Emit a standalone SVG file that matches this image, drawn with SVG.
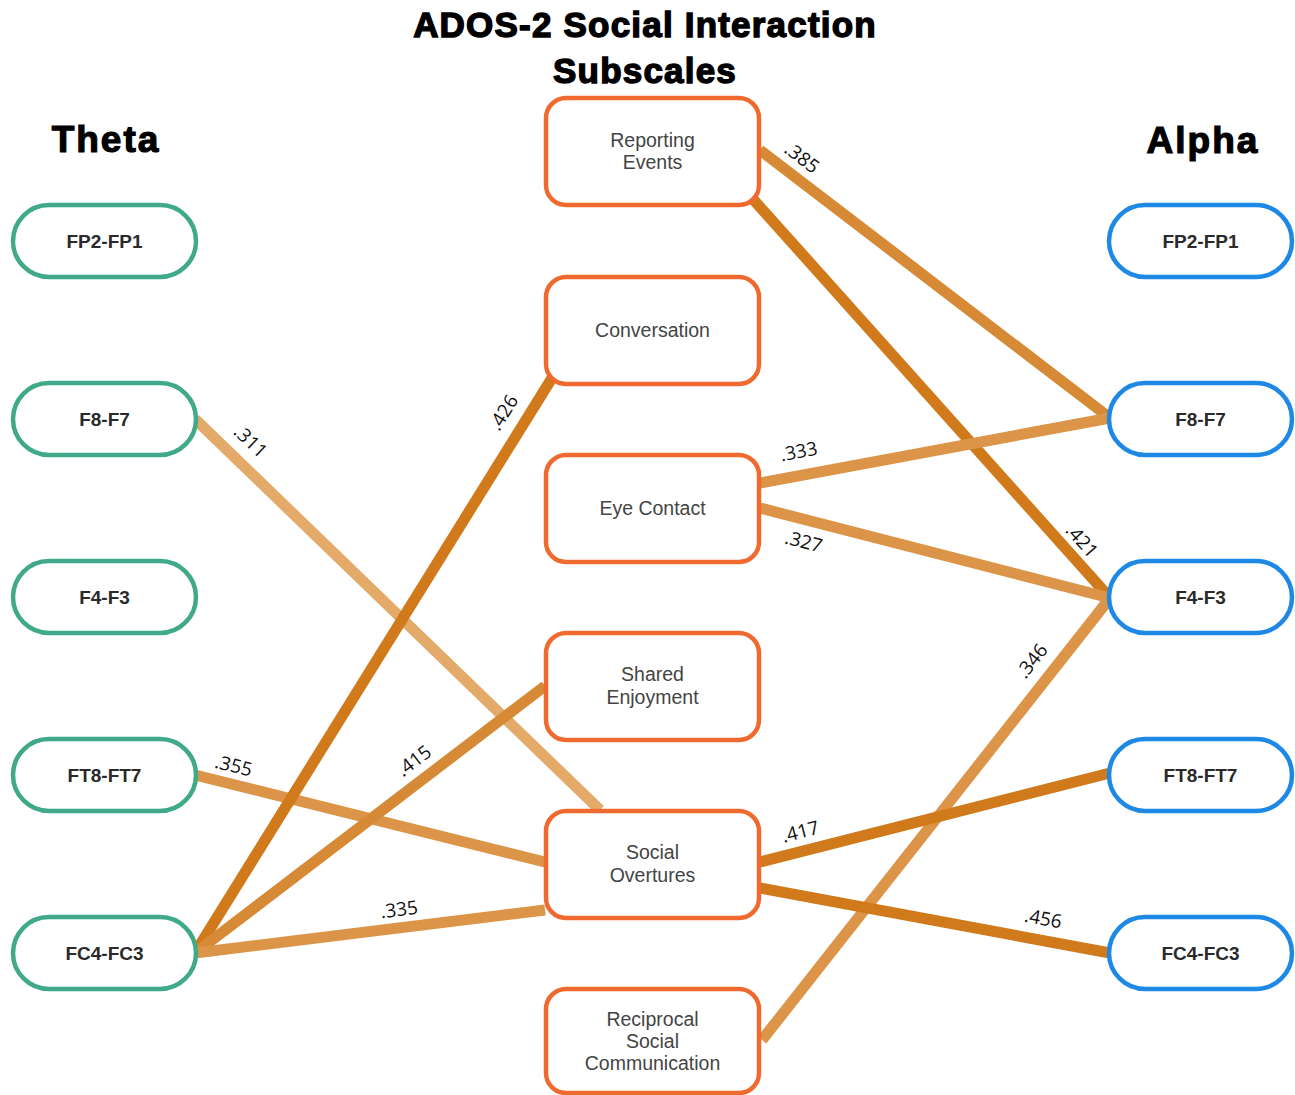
<svg xmlns="http://www.w3.org/2000/svg" width="1295" height="1095" viewBox="0 0 1295 1095">
<style>
.title{font-family:"Liberation Sans",Arial,sans-serif;font-weight:900;font-size:35px;letter-spacing:1.2px;fill:#000;stroke:#000;stroke-width:1.4px;text-anchor:middle}
.band{font-family:"Liberation Sans",Arial,sans-serif;font-weight:bold;font-size:37px;letter-spacing:2px;fill:#000;stroke:#000;stroke-width:1.2px;text-anchor:middle}
.theta{fill:#fff;stroke:#3fa98a;stroke-width:4.5}
.alpha{fill:#fff;stroke:#1e88e5;stroke-width:4.5}
.sub{fill:#fff;stroke:#f06a30;stroke-width:4.5}
.pt{font-family:"Liberation Sans",Arial,sans-serif;font-weight:bold;font-size:19px;fill:#2a2a2a;text-anchor:middle}
.st{font-family:"Liberation Sans",Arial,sans-serif;font-size:19.5px;fill:#444;text-anchor:middle}
.e{fill:none;stroke-width:11;stroke-linecap:butt}
.l1{stroke:#e3aa6a}
.l2{stroke:#dc9548}
.l3{stroke:#d68a36}
.l4{stroke:#d07a1c}
.lab{font-family:"Open Sans","Liberation Sans",sans-serif;font-size:19px;fill:#111;text-anchor:middle}
</style>
<text class="title" x="645" y="37">ADOS-2 Social Interaction</text>
<text class="title" x="645" y="83">Subscales</text>
<text class="band" x="106" y="152">Theta</text>
<text class="band" x="1203" y="153">Alpha</text>
<g id="connectors">
<line class="e l3" x1="760" y1="150" x2="1110" y2="418"/>
<line class="e l4" x1="752" y1="198" x2="1110" y2="598"/>
<line class="e l2" x1="760" y1="483" x2="1110" y2="418"/>
<line class="e l2" x1="760" y1="508" x2="1110" y2="598"/>
<line class="e l2" x1="762" y1="1040" x2="1110" y2="598"/>
<line class="e l4" x1="760" y1="862" x2="1110" y2="773"/>
<line class="e l4" x1="760" y1="888" x2="1110" y2="953"/>
<line class="e l1" x1="195" y1="419" x2="600" y2="810"/>
<line class="e l2" x1="195" y1="775" x2="545" y2="862"/>
<line class="e l4" x1="195" y1="953" x2="552" y2="378"/>
<line class="e l3" x1="195" y1="953" x2="545" y2="686"/>
<line class="e l2" x1="195" y1="953" x2="545" y2="910"/>
<text class="lab" transform="translate(798,163) rotate(37.4)">.385</text>
<text class="lab" transform="translate(1077,545) rotate(48.2)">.421</text>
<text class="lab" transform="translate(800,458) rotate(-10.5)">.333</text>
<text class="lab" transform="translate(802,548) rotate(14.4)">.327</text>
<text class="lab" transform="translate(1037,665) rotate(-51.8)">.346</text>
<text class="lab" transform="translate(802,838) rotate(-14.3)">.417</text>
<text class="lab" transform="translate(1042,925) rotate(10.5)">.456</text>
<text class="lab" transform="translate(246,446) rotate(44)">.311</text>
<text class="lab" transform="translate(232,772) rotate(14)">.355</text>
<text class="lab" transform="translate(509,416) rotate(-58.2)">.426</text>
<text class="lab" transform="translate(418,766) rotate(-37.3)">.415</text>
<text class="lab" transform="translate(400,916) rotate(-7)">.335</text>
</g>
<g id="theta-FP2-FP1"><rect class="theta" x="13" y="205" width="183" height="72" rx="36"/><text class="pt" x="104.5" y="248">FP2-FP1</text></g>
<g id="theta-F8-F7"><rect class="theta" x="13" y="383" width="183" height="72" rx="36"/><text class="pt" x="104.5" y="426">F8-F7</text></g>
<g id="theta-F4-F3"><rect class="theta" x="13" y="561" width="183" height="72" rx="36"/><text class="pt" x="104.5" y="604">F4-F3</text></g>
<g id="theta-FT8-FT7"><rect class="theta" x="13" y="739" width="183" height="72" rx="36"/><text class="pt" x="104.5" y="782">FT8-FT7</text></g>
<g id="theta-FC4-FC3"><rect class="theta" x="13" y="917" width="183" height="72" rx="36"/><text class="pt" x="104.5" y="960">FC4-FC3</text></g>
<g id="alpha-FP2-FP1"><rect class="alpha" x="1109" y="205" width="183" height="72" rx="36"/><text class="pt" x="1200.5" y="248">FP2-FP1</text></g>
<g id="alpha-F8-F7"><rect class="alpha" x="1109" y="383" width="183" height="72" rx="36"/><text class="pt" x="1200.5" y="426">F8-F7</text></g>
<g id="alpha-F4-F3"><rect class="alpha" x="1109" y="561" width="183" height="72" rx="36"/><text class="pt" x="1200.5" y="604">F4-F3</text></g>
<g id="alpha-FT8-FT7"><rect class="alpha" x="1109" y="739" width="183" height="72" rx="36"/><text class="pt" x="1200.5" y="782">FT8-FT7</text></g>
<g id="alpha-FC4-FC3"><rect class="alpha" x="1109" y="917" width="183" height="72" rx="36"/><text class="pt" x="1200.5" y="960">FC4-FC3</text></g>
<g id="reporting-events"><rect class="sub" x="546" y="98" width="213" height="107" rx="20"/><text class="st" x="652.5" y="147">Reporting</text><text class="st" x="652.5" y="169">Events</text></g>
<g id="conversation"><rect class="sub" x="546" y="277" width="213" height="107" rx="20"/><text class="st" x="652.5" y="337">Conversation</text></g>
<g id="eye-contact"><rect class="sub" x="546" y="455" width="213" height="107" rx="20"/><text class="st" x="652.5" y="515">Eye Contact</text></g>
<g id="shared-enjoyment"><rect class="sub" x="546" y="633" width="213" height="107" rx="20"/><text class="st" x="652.5" y="681">Shared</text><text class="st" x="652.5" y="704">Enjoyment</text></g>
<g id="social-overtures"><rect class="sub" x="546" y="811" width="213" height="107" rx="20"/><text class="st" x="652.5" y="859">Social</text><text class="st" x="652.5" y="882">Overtures</text></g>
<g id="reciprocal-social-communication"><rect class="sub" x="546" y="989" width="213" height="104" rx="20"/><text class="st" x="652.5" y="1026">Reciprocal</text><text class="st" x="652.5" y="1048">Social</text><text class="st" x="652.5" y="1070">Communication</text></g>
</svg>
